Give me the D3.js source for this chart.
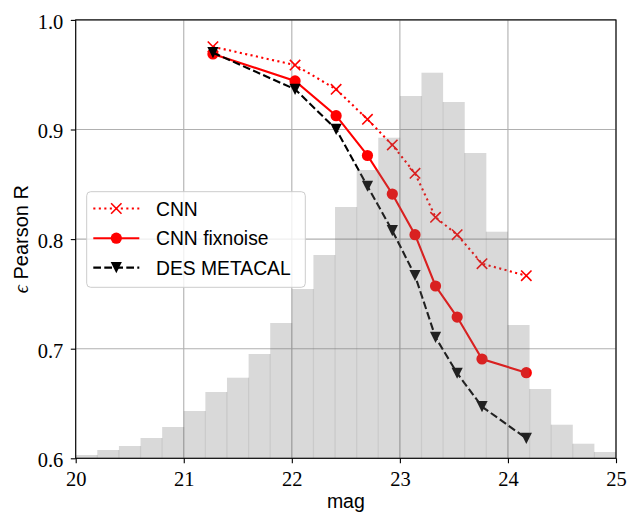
<!DOCTYPE html>
<html>
<head>
<meta charset="utf-8">
<script src="https://cdn.jsdelivr.net/npm/d3@7"></script>
<style>
  html, body { margin: 0; padding: 0; background: #fff; }
  svg { display: block; }
</style>
</head>
<body>
<div id="chart"></div>
<script>
// ---------------- data ----------------
const magCenters = [21.27, 22.03, 22.41, 22.70, 22.93, 23.14, 23.33, 23.53, 23.76, 24.17];
const cnnValues = [0.9755, 0.9588, 0.9367, 0.9093, 0.8859, 0.8600, 0.8199, 0.8040, 0.7776, 0.7666];
const fixnoiseValues = [0.9689, 0.9443, 0.9126, 0.8763, 0.8411, 0.8040, 0.7572, 0.7289, 0.6906, 0.6781];
const metacalValues = [0.9701, 0.9367, 0.9002, 0.8482, 0.8077, 0.7668, 0.7104, 0.6776, 0.6471, 0.6182];

const histEdges = [20.0, 20.2, 20.4, 20.6, 20.8, 21.0, 21.2, 21.4, 21.6, 21.8, 22.0, 22.2, 22.4,
                   22.6, 22.8, 23.0, 23.2, 23.4, 23.6, 23.8, 24.0, 24.2, 24.4, 24.6, 24.8, 25.0];
const histCounts = [33, 83, 123, 203, 313, 473, 663, 806, 1043, 1353, 1693, 2033, 2513,
                    2883, 3206, 3623, 3856, 3563, 3053, 2266, 1333, 693, 336, 146, 63];
const histCountMax = 4384;

const xTicks = [20, 21, 22, 23, 24, 25];
const yTicks = [0.6, 0.7, 0.8, 0.9, 1.0];
const seriesNames = ["CNN", "CNN fixnoise", "DES METACAL"];

// ---------------- layout ----------------
const W = 629, H = 514;
const L = 75.7, R = 616, T = 19.9, B = 458.3;

const x = d3.scaleLinear().domain([20, 25]).range([L, R]);
const y = d3.scaleLinear().domain([0.6, 1.0]).range([B, T]);
const yH = d3.scaleLinear().domain([0, histCountMax]).range([B, T]);

const svg = d3.select("#chart").append("svg")
  .attr("width", W).attr("height", H)
  .attr("viewBox", `0 0 ${W} ${H}`);

svg.append("rect").attr("width", W).attr("height", H).attr("fill", "#fff");

const clip = svg.append("clipPath").attr("id", "plotclip")
  .append("rect").attr("x", L).attr("y", T).attr("width", R - L).attr("height", B - T);

// grid
const grid = svg.append("g").attr("class", "grid");
grid.selectAll("line.gx").data(xTicks).join("line")
  .attr("x1", d => x(d)).attr("x2", d => x(d)).attr("y1", T).attr("y2", B)
  .attr("stroke", "#b0b0b0").attr("stroke-width", 1.1);
grid.selectAll("line.gy").data(yTicks).join("line")
  .attr("y1", d => y(d)).attr("y2", d => y(d)).attr("x1", L).attr("x2", R)
  .attr("stroke", "#b0b0b0").attr("stroke-width", 1.1);

// series
const plot = svg.append("g").attr("clip-path", "url(#plotclip)");
const line = d3.line().x(d => x(d[0])).y(d => y(d[1]));

const series = [
  { name: seriesNames[0], vals: cnnValues, color: "#ff0000", dash: "2.1,3.4", marker: "x" },
  { name: seriesNames[1], vals: fixnoiseValues, color: "#ff0000", dash: null, marker: "o" },
  { name: seriesNames[2], vals: metacalValues, color: "#000000", dash: "7.7,3.3", marker: "v" }
];

function drawMarker(g, type, color) {
  if (type === "x") {
    g.append("path").attr("d", "M-5.2,-5.2L5.2,5.2M-5.2,5.2L5.2,-5.2")
      .attr("stroke", color).attr("stroke-width", 1.6).attr("fill", "none");
  } else if (type === "o") {
    g.append("circle").attr("r", 5.6).attr("fill", color);
  } else if (type === "v") {
    g.append("path").attr("d", "M0,5.6L-5.6,-5.6L5.6,-5.6Z").attr("fill", color);
  }
}

series.forEach(s => {
  const pts = magCenters.map((m, i) => [m, s.vals[i]]);
  plot.append("path").datum(pts)
    .attr("d", line).attr("fill", "none")
    .attr("stroke", s.color).attr("stroke-width", 2.1)
    .attr("stroke-dasharray", s.dash);
  pts.forEach(p => {
    const g = plot.append("g").attr("transform", `translate(${x(p[0])},${y(p[1])})`);
    drawMarker(g, s.marker, s.color);
  });
});

// histogram (drawn on top, translucent)
const bins = histCounts.map((c, i) => ({ x0: histEdges[i], x1: histEdges[i + 1], c }));
const hist = svg.append("g").attr("clip-path", "url(#plotclip)");
hist.selectAll("rect").data(bins).join("rect")
  .attr("x", d => x(d.x0)).attr("width", d => x(d.x1) - x(d.x0))
  .attr("y", d => yH(d.c)).attr("height", d => B - yH(d.c))
  .attr("fill", "rgb(120,120,120)").attr("fill-opacity", 0.28);
// seams between adjacent bars
const seams = bins.slice(1).map((d, i) => ({ e: d.x0, h: Math.min(d.c, bins[i].c) }));
hist.selectAll("line").data(seams).join("line")
  .attr("x1", d => x(d.e)).attr("x2", d => x(d.e))
  .attr("y1", B).attr("y2", d => yH(d.h))
  .attr("stroke", "rgb(120,120,120)").attr("stroke-opacity", 0.16).attr("stroke-width", 1.2);

// axes
const serif = "'Liberation Serif', 'DejaVu Serif', serif";
const sans = "'Liberation Sans', Arial, sans-serif";

const xAxis = svg.append("g").attr("transform", `translate(0,${B})`)
  .call(d3.axisBottom(x).tickValues(xTicks).tickSize(4.9).tickPadding(7.8).tickFormat(d3.format("d")));
const yAxis = svg.append("g").attr("transform", `translate(${L},0)`)
  .call(d3.axisLeft(y).tickValues(yTicks).tickSize(4.9).tickPadding(7.5).tickFormat(d3.format(".1f")));

[xAxis, yAxis].forEach(a => {
  a.select(".domain").remove();
  a.selectAll(".tick line").attr("stroke", "#000").attr("stroke-width", 1.1);
  a.selectAll(".tick text").attr("font-family", serif).attr("font-size", 20.5).attr("fill", "#000");
});
yAxis.selectAll(".tick text").attr("dy", "0.41em");

// spines
svg.append("rect").attr("x", L).attr("y", T).attr("width", R - L).attr("height", B - T)
  .attr("fill", "none").attr("stroke", "#000").attr("stroke-width", 1.1);

// axis labels
svg.append("text").attr("x", (L + R) / 2).attr("y", 507.5)
  .attr("text-anchor", "middle").attr("font-family", sans).attr("font-size", 19.5)
  .attr("fill", "#000").text("mag");

const yl = svg.append("text")
  .attr("transform", `translate(28,${(T + B) / 2}) rotate(-90)`)
  .attr("text-anchor", "middle").attr("font-family", sans).attr("font-size", 20)
  .attr("fill", "#000");
yl.append("tspan").attr("font-family", serif).attr("font-style", "italic").text("\u03F5");
yl.append("tspan").text(" Pearson R");

// legend
const leg = svg.append("g");
leg.append("rect").attr("x", 86.7).attr("y", 191.7).attr("width", 218.6).attr("height", 95.6)
  .attr("rx", 4).attr("fill", "#fff").attr("fill-opacity", 0.8)
  .attr("stroke", "#cccccc").attr("stroke-width", 1);
const rowY = [208.5, 238.2, 267.6];
series.forEach((s, i) => {
  const g = leg.append("g").attr("transform", `translate(0,${rowY[i]})`);
  g.append("line").attr("x1", 93.3).attr("x2", 139.3).attr("y1", 0).attr("y2", 0)
    .attr("stroke", s.color).attr("stroke-width", 2.1).attr("stroke-dasharray", s.dash);
  const mg = g.append("g").attr("transform", "translate(116.3,0)");
  drawMarker(mg, s.marker, s.color);
  g.append("text").attr("x", 156).attr("y", 7).attr("font-family", sans).attr("font-size", 19.3)
    .attr("fill", "#000").text(s.name);
});
</script>
</body>
</html>
